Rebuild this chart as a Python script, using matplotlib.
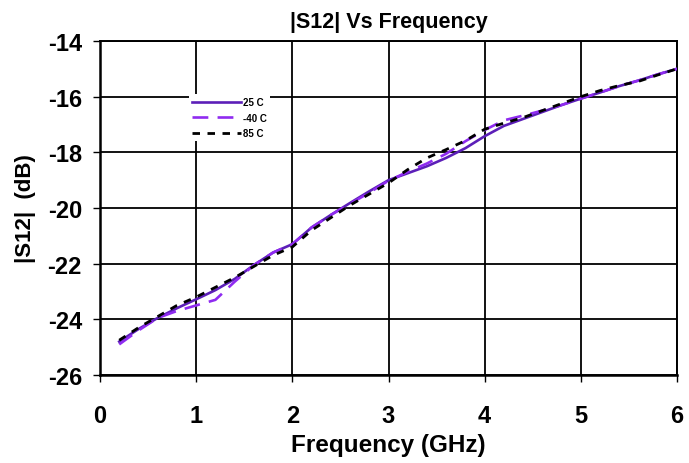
import matplotlib
matplotlib.use("Agg")
import matplotlib.pyplot as plt

plt.rcParams['font.family'] = ['Liberation Sans', 'DejaVu Sans']
plt.rcParams['font.weight'] = 'bold'
plt.rcParams['axes.unicode_minus'] = False

freq = [0.2, 0.4, 0.6, 0.8, 1.0, 1.2, 1.4, 1.6, 1.8, 2.0, 2.2, 2.4, 2.6, 2.8, 3.0,
        3.2, 3.4, 3.6, 3.8, 4.0, 4.2, 4.4, 4.6, 4.8, 5.0, 5.2, 5.4, 5.6, 5.8, 6.0]
s12_25c = [-24.8, -24.35, -23.95, -23.6, -23.28, -22.95, -22.55, -22.05, -21.6, -21.3,
           -20.7, -20.25, -19.82, -19.4, -19.0, -18.75, -18.5, -18.2, -17.85, -17.42,
           -17.05, -16.8, -16.55, -16.3, -16.07, -15.85, -15.62, -15.42, -15.2, -15.0]
s12_m40c = [-24.9, -24.4, -23.95, -23.7, -23.5, -23.3, -22.65, -22.05, -21.6, -21.3,
            -20.7, -20.25, -19.85, -19.45, -19.02, -18.7, -18.4, -18.05, -17.6, -17.2,
            -16.85, -16.68, -16.5, -16.3, -16.07, -15.85, -15.62, -15.42, -15.2, -15.0]
s12_85c = [-24.75, -24.3, -23.9, -23.5, -23.2, -22.85, -22.5, -22.1, -21.7, -21.4,
           -20.8, -20.35, -19.9, -19.5, -19.1, -18.62, -18.2, -17.9, -17.58, -17.17,
           -16.95, -16.75, -16.5, -16.25, -16.0, -15.78, -15.6, -15.45, -15.22, -15.0]
labels = ['25 C', '-40 C', '85 C']
xticks = [0, 1, 2, 3, 4, 5, 6]
yticks = [-26, -24, -22, -20, -18, -16, -14]

fig = plt.figure(figsize=(6.89, 4.64), dpi=100)
ax = fig.add_axes([100/689, 1-376/464, 577/689, 334/464])

ax.plot(freq, s12_25c, color='#5c1fb8', lw=1.9, label=labels[0], zorder=3)
ax.plot(freq, s12_m40c, color='#8f2bf0', lw=1.9, dashes=(6, 3.5), label=labels[1], zorder=3)
ax.plot(freq, s12_85c, color='black', lw=2.0, dashes=(2.7, 2.7), label=labels[2], zorder=4)

ax.set_xlim(0, 6)
ax.set_ylim(-26, -14)
ax.set_xticks(xticks)
ax.set_yticks(yticks)
ax.grid(True, color='black', lw=1.3)
ax.set_axisbelow(True)
for s in ax.spines.values():
    s.set_color('black')
    s.set_linewidth(1.4)
ax.spines['left'].set_linewidth(1.8)
ax.spines['bottom'].set_linewidth(1.8)
ax.tick_params(direction='out', length=5, width=1, labelsize=17)
ax.tick_params(axis='y', pad=8)
ax.tick_params(axis='x', pad=16)
for t in ax.get_xticklabels() + ax.get_yticklabels():
    t.set_fontweight('bold')

ax.set_title('|S12| Vs Frequency', fontsize=15.5, fontweight='bold', pad=10)
ax.set_xlabel('Frequency (GHz)', fontsize=17.5, fontweight='bold', labelpad=4)
ax.set_ylabel('|S12|  (dB)', fontsize=16, fontweight='bold', labelpad=8)

leg = ax.legend(loc='upper left', bbox_to_anchor=(0.155, 0.84),
                prop={'weight': 'bold', 'size': 7}, frameon=True, fancybox=False,
                edgecolor='none', facecolor='white', framealpha=1,
                handlelength=5.0, handletextpad=0.2, labelspacing=0.55,
                borderpad=0.3, borderaxespad=0)

fig.savefig('out.png', dpi=100)
